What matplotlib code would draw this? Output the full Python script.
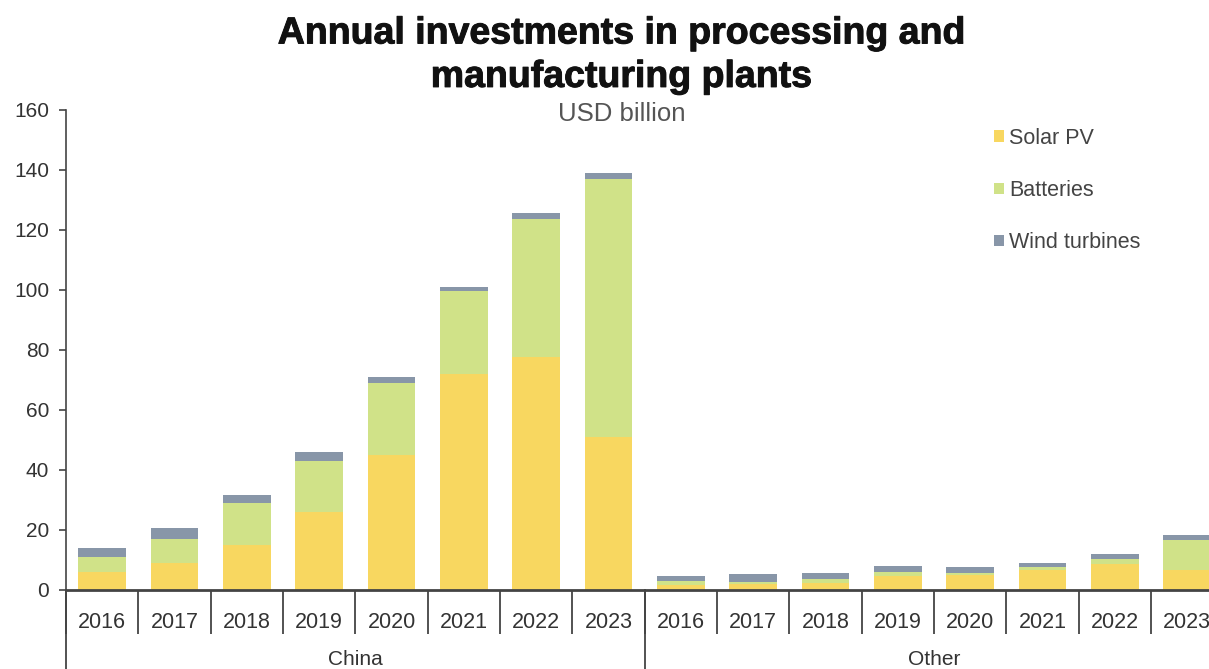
import matplotlib
matplotlib.use("Agg")
import matplotlib.pyplot as plt
import matplotlib.transforms as mtransforms
import matplotlib.patheffects as pe
import numpy as np

plt.rcParams['font.family'] = ['Liberation Sans', 'DejaVu Sans']

years = ['2016', '2017', '2018', '2019', '2020', '2021', '2022', '2023']
groups = ['China', 'Other']

# China then Other, 2016..2023
solar = [6, 9, 15, 26, 45, 72, 77.5, 51,
         1.7, 2, 2.4, 4.8, 5, 6.7, 8.7, 6.7]
batteries = [5, 8, 14, 17, 24, 27.5, 46, 86,
             1.3, 0.8, 1.3, 1.2, 0.6, 1.1, 1.6, 10]
wind = [3, 3.5, 2.5, 3, 2, 1.5, 2, 2,
        1.8, 2.4, 2, 2, 2, 1.3, 1.6, 1.6]

c_solar = '#f8d760'
c_batt = '#d0e288'
c_wind = '#8896a8'
grey = '#444444'

fig = plt.figure(figsize=(12.09, 6.69), dpi=100)
ax = fig.add_axes([0.0546, 0.1181, 0.9454, 0.7175])

x = np.arange(len(solar))
solar = np.array(solar)
batteries = np.array(batteries)
wind = np.array(wind)
w = 0.66
ax.bar(x, solar, w, color=c_solar, label='Solar PV')
ax.bar(x, batteries, w, bottom=solar, color=c_batt, label='Batteries')
ax.bar(x, wind, w, bottom=solar + batteries, color=c_wind, label='Wind turbines')

ax.set_yticks(range(0, 161, 20))
ax.tick_params(axis='y', length=5, width=1.2, color=grey, labelsize=15,
               labelcolor='#333333', pad=7)

ax.set_xticks(x, years * 2)
ax.tick_params(axis='x', length=0, labelsize=15.5, labelcolor='#333333', pad=16)
ax.set_xticks(np.arange(-0.5, 16, 1), minor=True)
ax.tick_params(axis='x', which='minor', length=32, width=1.3, color=grey)

# limits after the ticks, set_xticks widens the view otherwise
ax.set_ylim(0, 160)
ax.set_xlim(-0.5, 15.3)

for s in ['top', 'right']:
    ax.spines[s].set_visible(False)
ax.spines['left'].set_color(grey)
ax.spines['left'].set_linewidth(1.2)
ax.spines['bottom'].set_color(grey)
ax.spines['bottom'].set_linewidth(2)

trans = mtransforms.blended_transform_factory(ax.transData, ax.transAxes)
for b in [-0.5, 7.5]:
    ax.plot([b, b], [0, -0.17], transform=trans, color=grey, lw=1.3, clip_on=False)
for i, g in enumerate(groups):
    ax.text(3.5 + 8 * i, -0.145, g, transform=trans, ha='center', va='center',
            fontsize=15, color='#333333')

heavy = [pe.withStroke(linewidth=0.7, foreground='#111111')]
fig.text(0.514, 0.950, 'Annual investments in processing and', ha='center',
         va='center', fontsize=27, fontweight='bold', color='#111111',
         path_effects=heavy)
fig.text(0.514, 0.885, 'manufacturing plants', ha='center',
         va='center', fontsize=27, fontweight='bold', color='#111111',
         path_effects=heavy)
fig.text(0.514, 0.829, 'USD billion', ha='center', va='center',
         fontsize=18.5, color='#555555')

leg = ax.legend(loc='upper left', bbox_to_anchor=(0.806, 0.838), bbox_transform=fig.transFigure,
                frameon=False, fontsize=15.5, handlelength=0.45, handleheight=0.45,
                handletextpad=0.25, labelspacing=1.45, labelcolor='#444444')

fig.savefig('out.png', dpi=100)
